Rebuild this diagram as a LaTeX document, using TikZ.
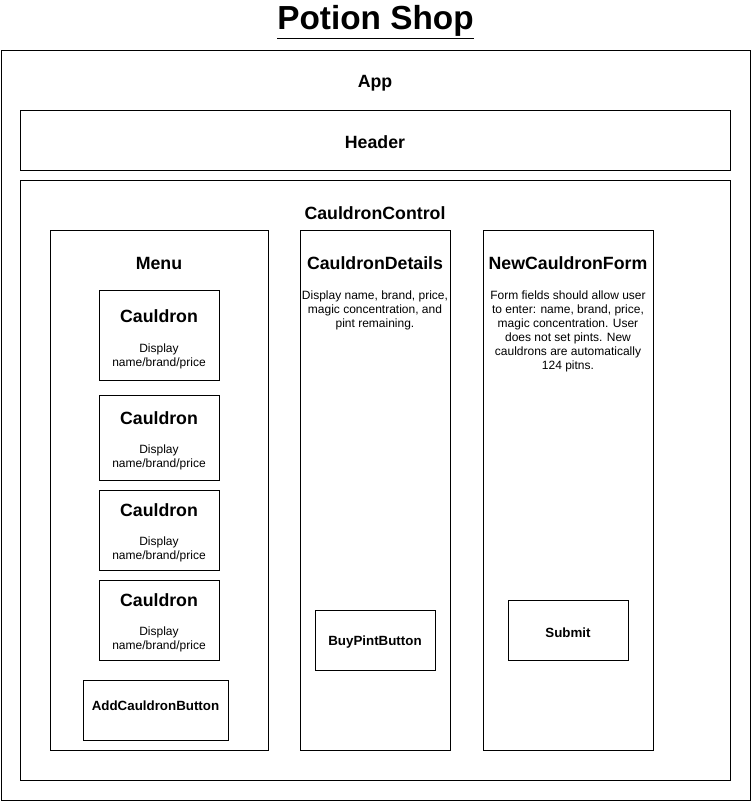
\documentclass[tikz,border=0pt]{standalone}
\usepackage{fontspec}
\setmainfont{Liberation Sans}
\usetikzlibrary{fit}
\begin{document}
\begin{tikzpicture}[x=0.75pt,y=-0.75pt,
  box/.style={draw=black, line width=0.75pt, inner sep=0pt, fill=white},
  ttl/.style={font=\bfseries\fontsize{13.3}{16}\selectfont, inner sep=0pt},
  btn/.style={font=\bfseries\fontsize{10}{12}\selectfont, inner sep=0pt},
  desc/.style={font=\fontsize{9}{10.5}\selectfont, align=center, inner sep=0pt}]
\useasboundingbox (0,0) rectangle (751,801);
\node[font=\bfseries\fontsize{25}{30}\selectfont, inner sep=0pt] (title) at (375.5,22) {\underline{Potion Shop}};
\node[box, fit={(1,50) (750,800)}] (app) {};
\node[ttl] (applbl) at (375,83) {App};
\node[box, fit={(20,110) (730,170)}] (header) {};
\node[ttl] (headerlbl) at (375,142) {Header};
\node[box, fit={(20,180) (730,780)}] (cc) {};
\node[ttl] (cclbl) at (375,213) {CauldronControl};
% Menu
\node[box, fit={(50,230) (268,750)}] (menu) {};
\node[ttl] (menulbl) at (159,263) {Menu};
\node[box, fit={(99,290) (219,380)}] (c1) {};
\node[ttl] (c1t) at (159,316) {Cauldron};
\node[desc] (c1d) at (159,356) {Display\\name/brand/price};
\node[box, fit={(99,395) (219,480)}] (c2) {};
\node[ttl] (c2t) at (159,418) {Cauldron};
\node[desc] (c2d) at (159,457) {Display\\name/brand/price};
\node[box, fit={(99,490) (219,570)}] (c3) {};
\node[ttl] (c3t) at (159,510) {Cauldron};
\node[desc] (c3d) at (159,549) {Display\\name/brand/price};
\node[box, fit={(99,580) (219,660)}] (c4) {};
\node[ttl] (c4t) at (159,600) {Cauldron};
\node[desc] (c4d) at (159,639) {Display\\name/brand/price};
\node[box, fit={(83,680) (228,740)}] (add) {};
\node[btn] (addlbl) at (155.5,705.5) {AddCauldronButton};
% Details
\node[box, fit={(300,230) (450,750)}] (details) {};
\node[ttl] (detailslbl) at (375,263) {CauldronDetails};
\node[desc] (detailsd) at (375,310.5) {Display name, brand, price,\\magic concentration, and\\pint remaining.};
\node[box, fit={(315,610) (435,670)}] (buy) {};
\node[btn] (buylbl) at (375,642.5) {BuyPintButton};
% Form
\node[box, fit={(483,230) (653,750)}] (form) {};
\node[ttl] (formlbl) at (568,263) {NewCauldronForm};
\node[desc] (formd) at (568,331) {Form fields should allow user\\to enter: name, brand, price,\\magic concentration. User\\does not set pints. New\\cauldrons are automatically\\124 pitns.};
\node[box, fit={(508,600) (628,660)}] (submit) {};
\node[btn] (submitlbl) at (568,632.5) {Submit};
\end{tikzpicture}
\end{document}
